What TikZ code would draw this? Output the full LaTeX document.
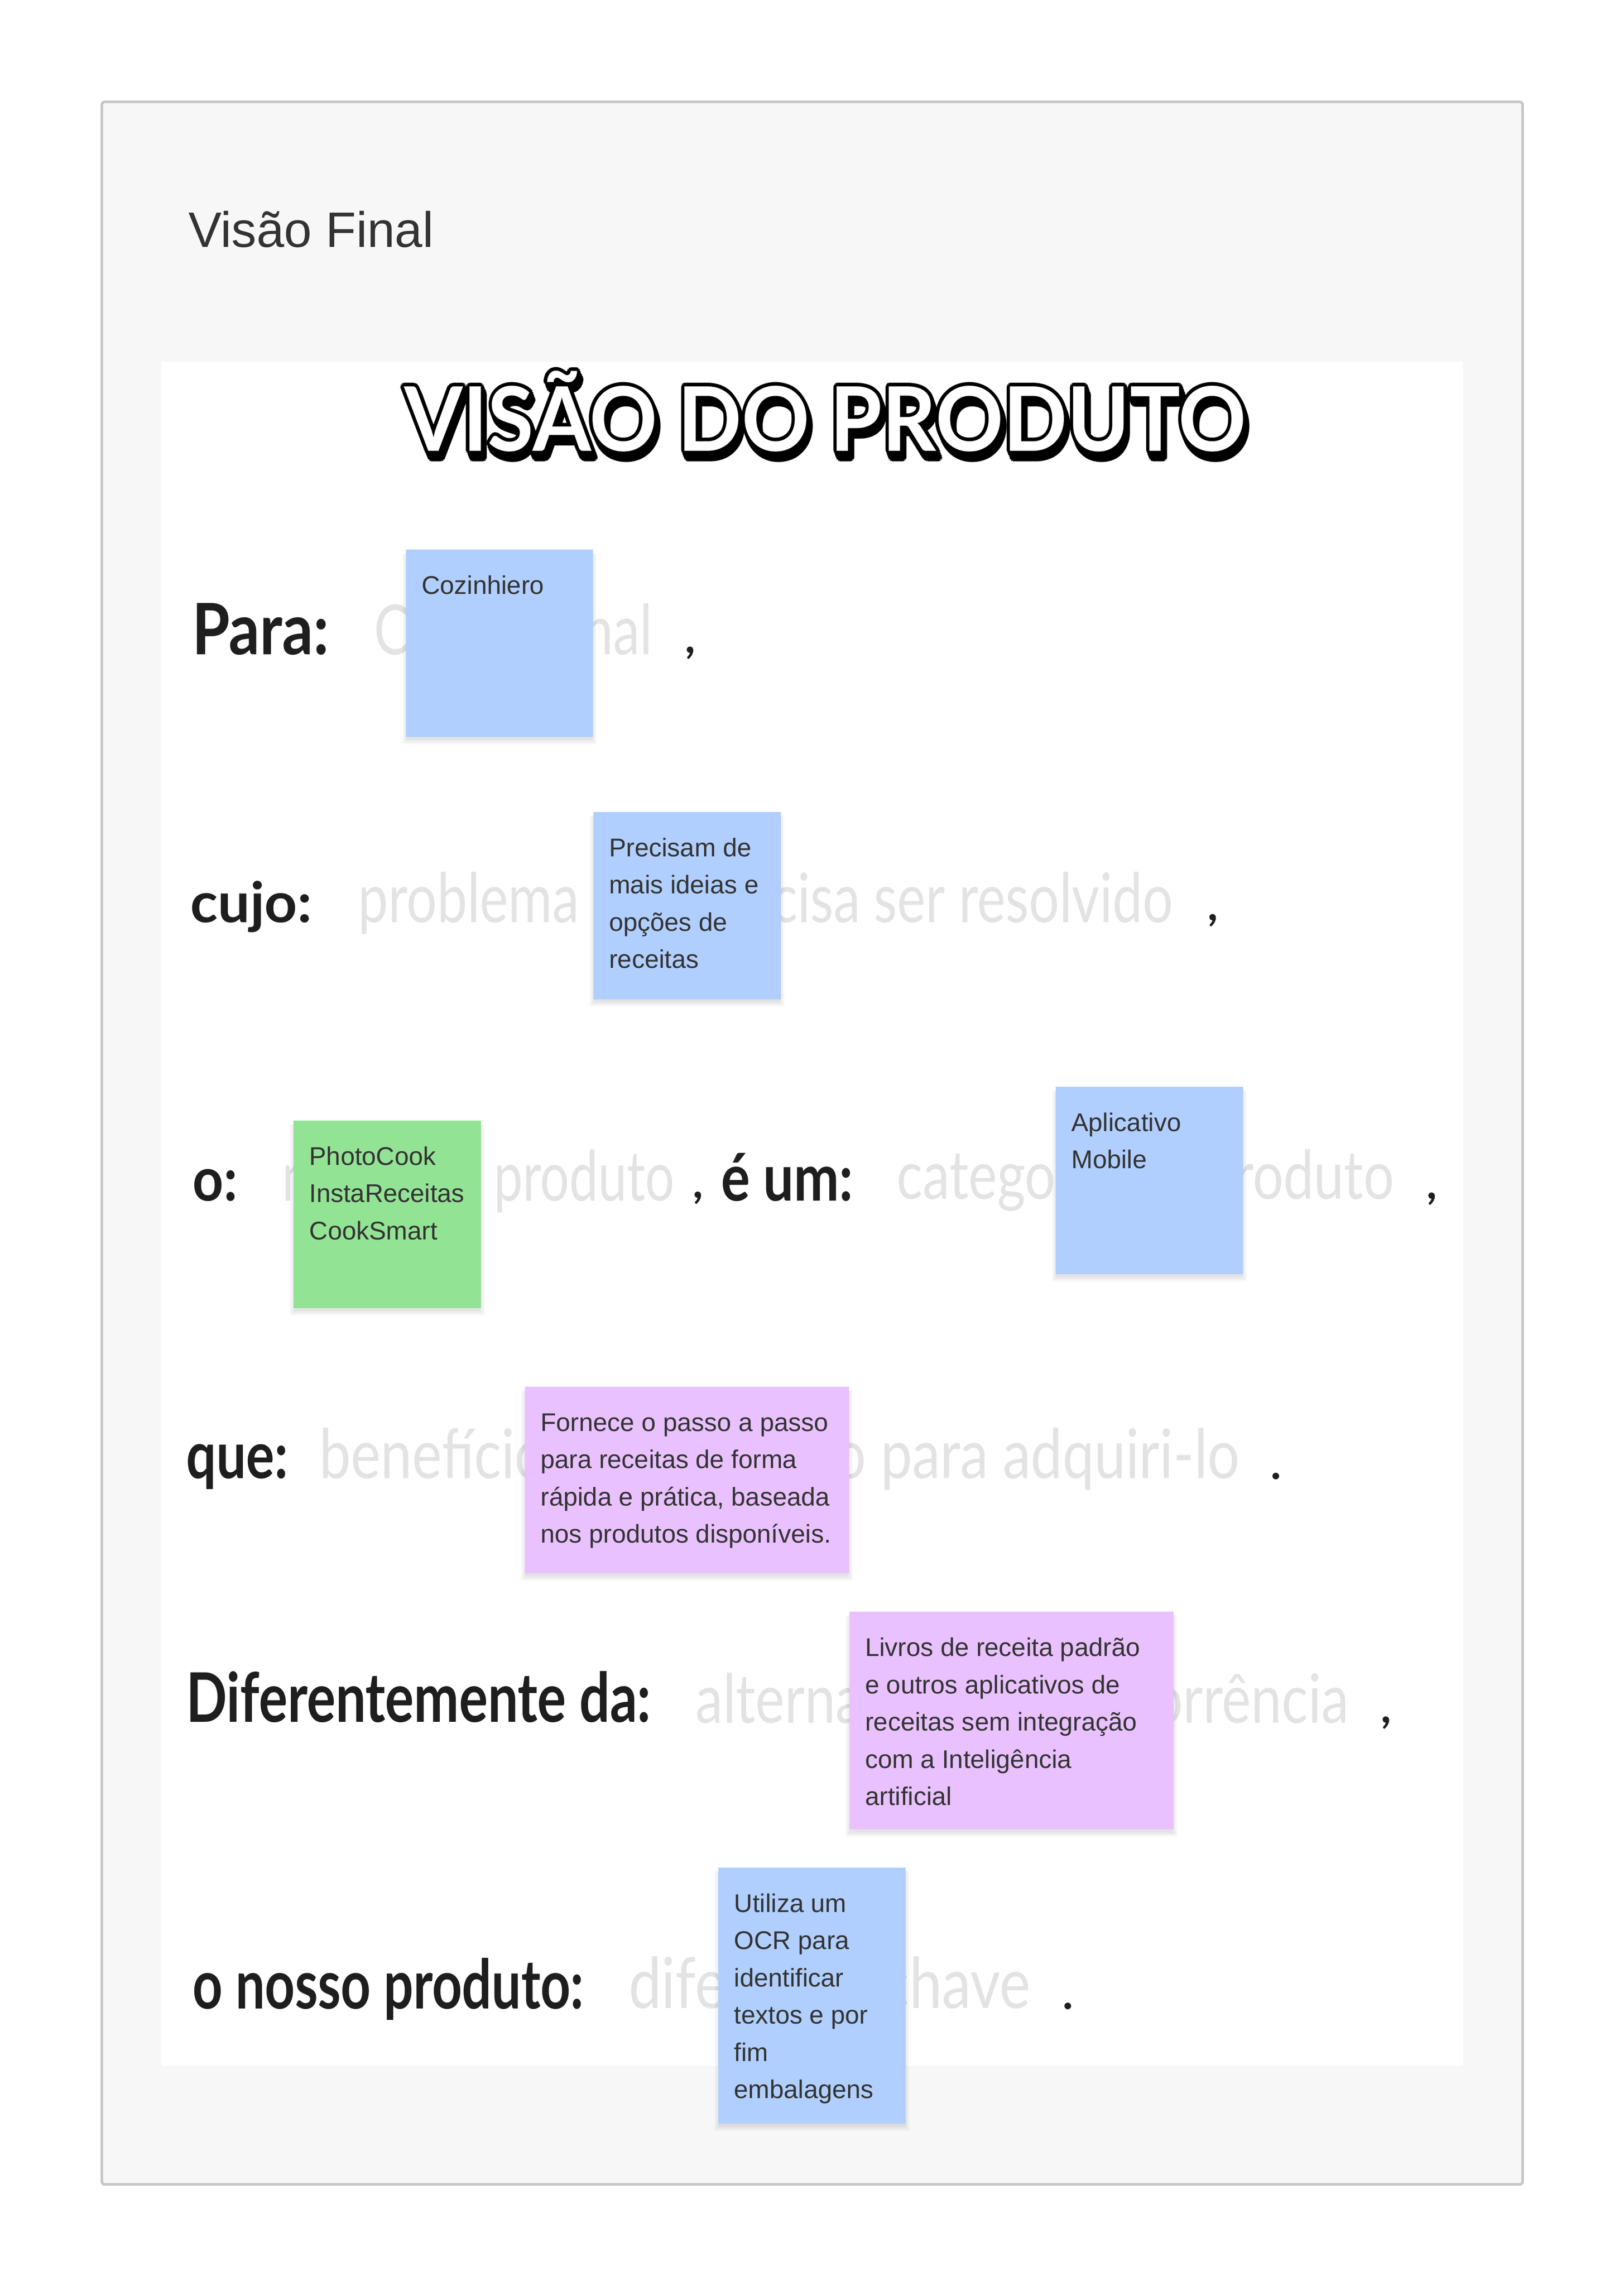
\documentclass[tikz,border=0pt]{standalone}
\usepackage{fontspec}
\usepackage{graphicx}
\setmainfont{Liberation Sans}
\newfontfamily\handfont{Lato}
\usetikzlibrary{calc}
\definecolor{frameline}{HTML}{C6C6C6}
\definecolor{framefill}{HTML}{F7F7F7}
\definecolor{inktext}{HTML}{333333}
\definecolor{labelink}{HTML}{1E1E1E}
\definecolor{ghost}{HTML}{E3E3E3}
\definecolor{sblue}{HTML}{B0CFFF}
\definecolor{sgreen}{HTML}{93E395}
\definecolor{spurple}{HTML}{E9C1FF}
\newcommand\fitnat[3]{\resizebox{#1}{#2}{#3}}
\newcommand\fitasc[3]{\resizebox{#1}{#2}{\raisebox{0pt}[\fontcharht\font`\l][\fontchardp\font`\g]{#3}}}
\newcommand\fitcap[3]{\resizebox{#1}{#2}{\raisebox{0pt}[\fontcharht\font`\V][0pt]{#3}}}
\newcommand\titlebox{\fitcap{575pt}{44pt}{VISÃO DO PRODUTO}}
\tikzset{
  stickybox/.style={anchor=north west, inner sep=0pt, outer sep=0pt, draw=none},
  stickyline/.style={anchor=base west, inner sep=0pt, font=\fontsize{17.5}{21}\selectfont, text=inktext},
  handlabel/.style={anchor=base west, inner sep=0pt, font=\handfont\bfseries\fontsize{40}{44}\selectfont, text=labelink},
  ghosttext/.style={anchor=base west, inner sep=0pt, font=\handfont\fontsize{40}{44}\selectfont, text=ghost},
  punct/.style={anchor=base west, inner sep=0pt, font=\handfont\bfseries\fontsize{30}{32}\selectfont, text=labelink},
  titleglyph/.style={anchor=base west, inner sep=0pt, font=\handfont\bfseries\fontsize{60}{64}\selectfont},
}
\newcommand\drawsticky[6]{%
  \foreach \r in {1,...,4}{\fill[black,opacity=0.028] (#3-\r+1.5, #4+\r*0.5+1) rectangle (#3+#5+\r-1.5, #4+#6+\r+1);}
  \node[stickybox, fill=#2, minimum width=#5pt, minimum height=#6pt] (#1) at (#3,#4) {};
}
\newcommand\stickylines[2]{%
  \foreach \t [count=\i from 0] in {#2}{\node[stickyline] (#1l\i) at ($(#1.north west)+(10.6,30.4+25.45*\i)$) {\t};}
}
\begin{document}
\begin{tikzpicture}[x=1pt,y=-1pt]
\useasboundingbox (0,0) rectangle (1109.33,1561.6);
\fill[white] (0,0) rectangle (1109.33,1561.6);
% frame
\draw[line width=1.8pt, draw=frameline, fill=framefill, rounded corners=2pt] (69.6,69.6) rectangle (1040.1,1492.2);
\fill[white] (110.2,247.1) rectangle (999.3,1411.2);
% heading
\node[anchor=base west, inner sep=0pt, font=\fontsize{34}{40}\selectfont, text=inktext] (heading) at (128.5,168.7) {Visão Final};
% title with outline and shadow
\foreach \sx/\sy in {0/0, 0.7/1.7, 1.4/3.4, 2/5}{
  \foreach \a in {0,30,...,330}{
    \node[titleglyph, text=black] (tsh) at ({276+\sx+2.3*cos(\a)}, {308+\sy+2.3*sin(\a)}) {\titlebox};
  }
}
\node[titleglyph, text=white] (title) at (276,308) {\titlebox};
% placeholder texts of the template (partly covered by the notes)
\node[ghosttext] (g1) at (255.5,447) {\fitasc{190pt}{33.8pt}{Cliente final}};
\node[ghosttext] (g2) at (244.5,630) {\fitasc{556.5pt}{33.5pt}{problema que precisa ser resolvido}};
\node[ghosttext] (g3) at (192.5,820.4) {\fitasc{268pt}{33.9pt}{nome do produto}};
\node[ghosttext] (g4) at (612.5,819) {\fitasc{339.5pt}{33pt}{categoria do produto}};
\node[ghosttext] (g5) at (218,1009.8) {\fitasc{628.5pt}{33.5pt}{benefício chave, razão para adquiri-lo}};
\node[ghosttext] (g6) at (475,1177) {\fitasc{446pt}{33.3pt}{alternativa da concorrência}};
\node[ghosttext] (g7) at (429.3,1372) {\fitasc{274.5pt}{34.4pt}{diferença chave}};
% labels
\node[handlabel] (para) at (131,447.1) {\fitnat{93.5pt}{35pt}{Para:}};
\node[handlabel] (cujo) at (130,630) {\fitnat{83pt}{28.3pt}{cujo:}};
\node[handlabel] (o) at (131.5,820.4) {\fitnat{30.5pt}{21.6pt}{o:}};
\node[handlabel] (eum) at (492.5,820.4) {\fitnat{90pt}{32.6pt}{é um:}};
\node[handlabel] (que) at (127,1009.8) {\fitnat{69.5pt}{23.3pt}{que:}};
\node[handlabel] (dif) at (127,1176.3) {\fitnat{317.5pt}{34.7pt}{Diferentemente da:}};
\node[handlabel] (nosso) at (131.5,1372.2) {\fitnat{267pt}{34.6pt}{o nosso produto:}};
% punctuation
\node[punct] (c1) at (467.8,446) {,};
\node[punct] (c2) at (824.8,629) {,};
\node[punct] (c3) at (473.2,818.5) {,};
\node[punct] (c4) at (974.5,819) {,};
\node[punct] (p1) at (868,1010.4) {.};
\node[punct] (c5) at (943.3,1177) {,};
\node[punct] (p2) at (725.8,1372.6) {.};
% sticky notes
\drawsticky{s1}{sblue}{277.2}{375.4}{128}{128}
\stickylines{s1}{Cozinhiero}
\drawsticky{s2}{sblue}{405.3}{554.6}{128}{128}
\stickylines{s2}{Precisam de, mais ideias e, opções de, receitas}
\drawsticky{s3}{sgreen}{200.5}{765.5}{128}{128}
\stickylines{s3}{PhotoCook, InstaReceitas, CookSmart}
\drawsticky{s4}{sblue}{721.1}{742.4}{128}{128}
\stickylines{s4}{Aplicativo, Mobile}
\drawsticky{s5}{spurple}{358.5}{947.3}{221.5}{127.5}
\stickylines{s5}{Fornece o passo a passo, para receitas de forma, {rápida e prática, baseada}, nos produtos disponíveis.}
\drawsticky{s6}{spurple}{580.2}{1101}{221.5}{148.7}
\stickylines{s6}{Livros de receita padrão, e outros aplicativos de, receitas sem integração, com a Inteligência, artificial}
\drawsticky{s7}{sblue}{490.7}{1275.8}{128}{174.8}
\stickylines{s7}{Utiliza um, OCR para, identificar, textos e por, fim, embalagens}
\end{tikzpicture}
\end{document}
